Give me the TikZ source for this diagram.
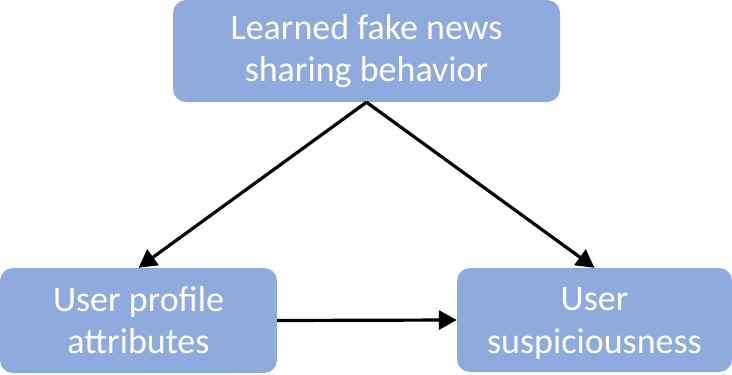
\documentclass[tikz,border=0pt]{standalone}
\usepackage{fontspec}
\setmainfont{Carlito}
\usetikzlibrary{arrows.meta}
\definecolor{boxblue}{HTML}{8FAADC}
\tikzset{
  x=1pt, y=-1pt,
  block/.style={rectangle, rounded corners=13pt, fill=boxblue, draw=none,
    text=white, align=center, inner sep=0pt,
    font=\fontsize{36}{42}\selectfont},
  link/.style={line width=3.2pt, -{Triangle[length=18pt,width=19pt]}}
}
\begin{document}
\begin{tikzpicture}
  \useasboundingbox (0,0) rectangle (732,375);
  % three boxes
  \node[block, minimum width=387pt, minimum height=102pt] (behav) at (366.5,51)
    {Learned fake news\\sharing behavior};
  \node[block, minimum width=277pt, minimum height=105pt] (profile) at (138.5,320.5)
    {User profile\\attributes};
  \node[block, minimum width=275pt, minimum height=104pt] (susp) at (594.5,320)
    {};
  \node[text=white, align=center, inner sep=0pt,
    font=\fontsize{36}{43}\selectfont] (susptext) at (594.5,323)
    {User\\suspiciousness};
  % connectors
  \draw[link] (behav.south) -- (profile.north);
  \draw[link] (behav.south) -- (susp.north);
  \draw[link] (profile.east) -- (susp.west);
\end{tikzpicture}
\end{document}
